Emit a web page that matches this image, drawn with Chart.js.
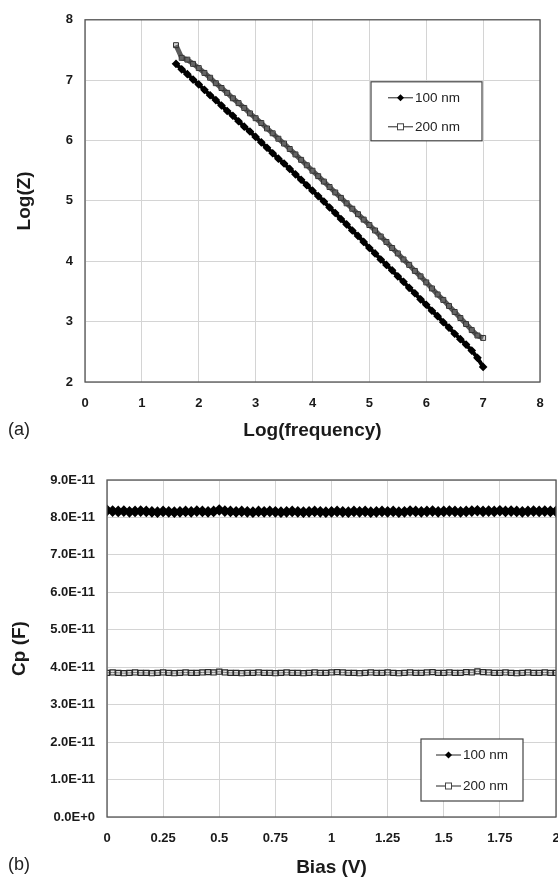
<!DOCTYPE html>
<html>
<head>
<meta charset="utf-8">
<script src="https://cdn.jsdelivr.net/npm/chart.js@4/dist/chart.umd.min.js"></script>
<style>
  body { margin: 0; background: #fff; width: 558px; height: 879px; position: relative; overflow: hidden; }
  canvas { position: absolute; left: 0; }
  #chartA { top: 0; }
  #chartB { top: 455px; }
  .tag { position: absolute; left: 8px; font: 18px "Liberation Sans", Arial, sans-serif; color: #222; }
</style>
</head>
<body>
<canvas id="chartA" width="558" height="450"></canvas>
<canvas id="chartB" width="558" height="424"></canvas>
<div class="tag" style="top:419px">(a)</div>
<div class="tag" style="top:854px">(b)</div>
<script>
// (a) impedance vs frequency
var logFreq = [1.6,1.7,1.8,1.9,2.0,2.1,2.2,2.3,2.4,2.5,2.6,2.7,2.8,2.9,3.0,3.1,3.2,3.3,3.4,3.5,
  3.6,3.7,3.8,3.9,4.0,4.1,4.2,4.3,4.4,4.5,4.6,4.7,4.8,4.9,5.0,5.1,5.2,5.3,5.4,5.5,
  5.6,5.7,5.8,5.9,6.0,6.1,6.2,6.3,6.4,6.5,6.6,6.7,6.8,6.9,7.0];
var logZ100 = [7.27,7.18,7.10,7.01,6.93,6.84,6.75,6.67,6.58,6.49,6.41,6.32,6.23,6.15,6.06,5.97,5.88,5.79,5.70,5.62,
  5.53,5.44,5.35,5.26,5.17,5.08,4.99,4.89,4.80,4.70,4.61,4.51,4.42,4.32,4.22,4.13,4.03,3.94,3.85,3.75,
  3.66,3.56,3.47,3.37,3.28,3.18,3.09,2.99,2.90,2.80,2.71,2.62,2.52,2.40,2.25];
var logZ200 = [7.58,7.37,7.34,7.27,7.20,7.12,7.04,6.95,6.87,6.79,6.70,6.62,6.54,6.45,6.37,6.29,6.20,6.12,6.03,5.95,
  5.86,5.77,5.68,5.59,5.50,5.41,5.32,5.23,5.14,5.05,4.96,4.87,4.78,4.69,4.60,4.51,4.41,4.32,4.22,4.13,
  4.03,3.94,3.84,3.75,3.65,3.55,3.45,3.36,3.26,3.16,3.06,2.96,2.86,2.77,2.73];

// (b) capacitance vs bias, Cp in units of 1E-11 F
var bias = [0,0.025,0.05,0.075,0.1,0.125,0.15,0.175,0.2,0.225,0.25,0.275,0.3,0.325,0.35,0.375,0.4,0.425,0.45,0.475,
  0.5,0.525,0.55,0.575,0.6,0.625,0.65,0.675,0.7,0.725,0.75,0.775,0.8,0.825,0.85,0.875,0.9,0.925,0.95,0.975,
  1,1.025,1.05,1.075,1.1,1.125,1.15,1.175,1.2,1.225,1.25,1.275,1.3,1.325,1.35,1.375,1.4,1.425,1.45,1.475,
  1.5,1.525,1.55,1.575,1.6,1.625,1.65,1.675,1.7,1.725,1.75,1.775,1.8,1.825,1.85,1.875,1.9,1.925,1.95,1.975,2];
var cp100 = [8.19,8.17,8.16,8.17,8.15,8.16,8.17,8.16,8.15,8.14,
  8.16,8.15,8.14,8.15,8.16,8.15,8.17,8.16,8.15,8.16,
  8.20,8.17,8.16,8.15,8.16,8.15,8.14,8.16,8.15,8.16,
  8.15,8.14,8.15,8.16,8.15,8.14,8.15,8.16,8.15,8.14,
  8.15,8.16,8.15,8.14,8.16,8.15,8.16,8.14,8.15,8.16,
  8.15,8.16,8.14,8.15,8.17,8.16,8.15,8.16,8.17,8.15,
  8.16,8.17,8.16,8.15,8.16,8.17,8.18,8.16,8.17,8.16,
  8.18,8.16,8.17,8.16,8.15,8.16,8.17,8.16,8.17,8.16,8.16];
var cp200 = [3.85,3.86,3.85,3.84,3.85,3.86,3.85,3.85,3.84,3.85,
  3.86,3.85,3.84,3.85,3.86,3.85,3.85,3.86,3.87,3.86,
  3.88,3.86,3.85,3.85,3.84,3.85,3.85,3.86,3.85,3.85,
  3.84,3.85,3.86,3.85,3.85,3.84,3.85,3.86,3.85,3.85,
  3.86,3.87,3.86,3.85,3.85,3.84,3.85,3.86,3.85,3.85,
  3.86,3.85,3.84,3.85,3.86,3.85,3.85,3.86,3.87,3.85,
  3.85,3.86,3.85,3.85,3.87,3.86,3.89,3.87,3.86,3.85,
  3.85,3.86,3.85,3.84,3.85,3.86,3.85,3.85,3.86,3.85,3.85];

var seriesNames = ['100 nm', '200 nm'];
var FONT = '"Liberation Sans", Arial, sans-serif';

function pairs(xs, ys) {
  return xs.map(function (x, i) { return { x: x, y: ys[i] }; });
}

// frame round the plot area
var framePlugin = {
  id: 'frame',
  afterDatasetsDraw: function (chart) {
    var a = chart.chartArea, ctx = chart.ctx;
    ctx.save();
    ctx.strokeStyle = '#555';
    ctx.lineWidth = 1.3;
    ctx.strokeRect(a.left, a.top, a.right - a.left, a.bottom - a.top);
    ctx.restore();
  }
};

// boxed legend drawn inside the plot area
var boxLegend = {
  id: 'boxLegend',
  afterDraw: function (chart, args, opts) {
    var a = chart.chartArea, ctx = chart.ctx;
    var x0 = a.right - opts.right - opts.width;
    var y0 = opts.fromBottom ? a.bottom - opts.offset - opts.height : a.top + opts.offset;
    ctx.save();
    ctx.fillStyle = '#fff';
    ctx.fillRect(x0, y0, opts.width, opts.height);
    ctx.strokeStyle = '#444';
    ctx.lineWidth = 1.2;
    ctx.strokeRect(x0, y0, opts.width, opts.height);
    chart.data.datasets.forEach(function (ds, i) {
      var cy = y0 + opts.rowTop + i * opts.rowGap;
      var lx = x0 + opts.lineStart;
      ctx.strokeStyle = '#222';
      ctx.lineWidth = 1;
      ctx.beginPath();
      ctx.moveTo(lx, cy);
      ctx.lineTo(lx + 25, cy);
      ctx.stroke();
      var mx = lx + 12.5;
      if (i === 0) {
        ctx.fillStyle = '#000';
        ctx.beginPath();
        ctx.moveTo(mx, cy - 3.5); ctx.lineTo(mx + 3.5, cy); ctx.lineTo(mx, cy + 3.5); ctx.lineTo(mx - 3.5, cy);
        ctx.closePath();
        ctx.fill();
      } else {
        ctx.fillStyle = '#fff';
        ctx.fillRect(mx - 3, cy - 3, 6, 6);
        ctx.strokeStyle = '#444';
        ctx.strokeRect(mx - 3, cy - 3, 6, 6);
      }
      ctx.fillStyle = '#222';
      ctx.font = '13.5px ' + FONT;
      ctx.textBaseline = 'middle';
      ctx.textAlign = 'left';
      ctx.fillText(ds.label, lx + 27, cy + 0.5);
    });
    ctx.restore();
  }
};

Chart.defaults.font.family = FONT;
Chart.defaults.color = '#1a1a1a';
Chart.defaults.animation = false;

var gridStyle = { color: '#d4d4d4', lineWidth: 1, drawTicks: false };

var ctx1 = document.getElementById('chartA').getContext('2d');
var chartA = new Chart(ctx1, {
  type: 'line',
  data: {
    datasets: [{
      label: seriesNames[0],
      data: pairs(logFreq, logZ100),
      borderColor: '#000',
      borderWidth: 4,
      pointStyle: 'rectRot',
      pointRadius: 1.5,
      pointBackgroundColor: '#000',
      pointBorderColor: '#000',
      tension: 0
    }, {
      label: seriesNames[1],
      data: pairs(logFreq, logZ200),
      borderColor: '#5c5c5c',
      borderWidth: 5,
      pointStyle: 'rect',
      pointRadius: 3.5,
      pointBorderWidth: 1,
      pointBackgroundColor: 'rgba(120,120,120,0.3)',
      pointBorderColor: '#333',
      tension: 0
    }]
  },
  options: {
    responsive: false,
    devicePixelRatio: 1,
    layout: { padding: { left: 0, top: 19, right: 18, bottom: 0 } },
    plugins: {
      legend: { display: false },
      tooltip: { enabled: false },
      boxLegend: { width: 111, height: 59, right: 58, offset: 62, rowTop: 16, rowGap: 29, lineStart: 17 }
    },
    scales: {
      x: {
        type: 'linear', min: 0, max: 8,
        ticks: { stepSize: 1, padding: 14, font: { size: 13, weight: 'bold' } },
        grid: gridStyle,
        border: { display: false },
        title: { display: true, text: 'Log(frequency)', font: { size: 19, weight: 'bold' }, padding: { top: 0, bottom: 8 } },
        afterFit: function (s) { s.height = 68; }
      },
      y: {
        min: 2, max: 8,
        ticks: { stepSize: 1, padding: 12, font: { size: 13, weight: 'bold' } },
        grid: gridStyle,
        border: { display: false },
        title: { display: true, text: 'Log(Z)', font: { size: 19, weight: 'bold' }, padding: { top: 13, bottom: 0 } },
        afterFit: function (s) { s.width = 85; }
      }
    }
  },
  plugins: [framePlugin, boxLegend]
});

var ctx2 = document.getElementById('chartB').getContext('2d');
var chartB = new Chart(ctx2, {
  type: 'line',
  data: {
    datasets: [{
      label: seriesNames[0],
      data: pairs(bias, cp100),
      borderColor: '#000',
      borderWidth: 4,
      pointStyle: 'rectRot',
      pointRadius: 3,
      pointBackgroundColor: '#000',
      pointBorderColor: '#000',
      tension: 0
    }, {
      label: seriesNames[1],
      data: pairs(bias, cp200),
      borderColor: '#333',
      borderWidth: 1,
      pointStyle: 'rect',
      pointRadius: 3.6,
      pointBorderWidth: 1.2,
      pointBackgroundColor: 'rgba(200,200,200,0.5)',
      pointBorderColor: '#2a2a2a',
      tension: 0
    }]
  },
  options: {
    responsive: false,
    devicePixelRatio: 1,
    layout: { autoPadding: false, padding: { left: 0, top: 25, right: 2, bottom: 0 } },
    plugins: {
      legend: { display: false },
      tooltip: { enabled: false },
      boxLegend: { width: 102, height: 62, right: 33, offset: 16, fromBottom: true, rowTop: 16, rowGap: 31, lineStart: 15 }
    },
    scales: {
      x: {
        type: 'linear', min: 0, max: 2,
        ticks: { stepSize: 0.25, padding: 14, font: { size: 13, weight: 'bold' },
          callback: function (v) { return String(v); } },
        grid: gridStyle,
        border: { display: false },
        title: { display: true, text: 'Bias (V)', font: { size: 19, weight: 'bold' }, padding: { top: 0, bottom: 0 } },
        afterFit: function (s) { s.height = 62; s.paddingRight = 0; }
      },
      y: {
        min: 0, max: 9,
        ticks: { stepSize: 1, padding: 12, font: { size: 13, weight: 'bold' },
          callback: function (v) { return v === 0 ? '0.0E+0' : v.toFixed(1) + 'E-11'; } },
        grid: gridStyle,
        border: { display: false },
        title: { display: true, text: 'Cp (F)', font: { size: 19, weight: 'bold' }, padding: { top: 8, bottom: 0 } },
        afterFit: function (s) { s.width = 107; }
      }
    }
  },
  plugins: [framePlugin, boxLegend]
});
</script>
</body>
</html>
